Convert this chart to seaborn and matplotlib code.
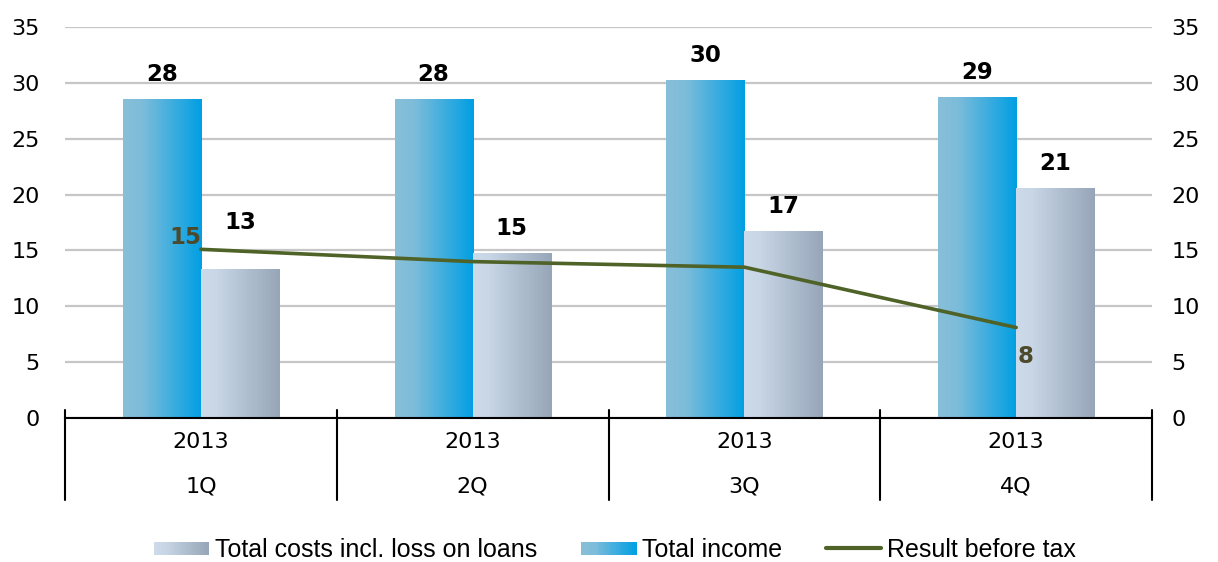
import matplotlib.pyplot as plt
import matplotlib.colors as mcolors
from matplotlib.patches import Rectangle
from matplotlib.lines import Line2D
from matplotlib.legend_handler import HandlerBase
import seaborn as sns
import numpy as np
import pandas as pd

# Chart data
quarters = ["1Q", "2Q", "3Q", "4Q"]
years = ["2013", "2013", "2013", "2013"]
total_income = [28.5, 28.5, 30.2, 28.7]
total_costs = [13.3, 14.7, 16.7, 20.5]
result_before_tax = [15.1, 14.0, 13.5, 8.1]
income_labels = ["28", "28", "30", "29"]
costs_labels = ["13", "15", "17", "21"]
result_labels = ["15", "", "", "8"]

income_cmap = mcolors.LinearSegmentedColormap.from_list(
    "income", [(0, "#88BFD8"), (0.25, "#7DBCDA"), (1, "#009FE3")])
costs_cmap = mcolors.LinearSegmentedColormap.from_list(
    "costs", [(0, "#CDDAEA"), (0.2, "#C8D6E6"), (1, "#96A6B8")])
line_color = "#4F6228"

sns.set_style("white")
plt.rcParams['font.family'] = ['DejaVu Sans']
plt.rcParams['text.color'] = "black"
plt.rcParams['ytick.color'] = "black"
plt.rcParams['xtick.color'] = "black"

df = pd.DataFrame({
    "quarter": quarters * 2,
    "series": ["Total income"] * 4 + ["Total costs"] * 4,
    "value": total_income + total_costs,
})

fig = plt.figure(figsize=(12.18, 5.62), dpi=100)
ax = fig.add_axes([0.0534, 0.2562, 0.8924, 0.6958])

sns.barplot(data=df, x="quarter", y="value", hue="series",
            hue_order=["Total income", "Total costs"], width=0.575,
            palette=["#009FE3", "#96A6B8"], legend=False, ax=ax, zorder=2)

# gradient fill for the bars
grad = np.linspace(0, 1, 256).reshape(1, -1)
for cont, cmap in zip(ax.containers, [income_cmap, costs_cmap]):
    for bar in cont:
        x0, y0 = bar.get_xy()
        w, h = bar.get_width(), bar.get_height()
        ax.imshow(grad, extent=[x0, x0 + w, y0, y0 + h], aspect="auto",
                  cmap=cmap, zorder=2, interpolation="bilinear")
        bar.set_visible(False)

sns.lineplot(x=np.arange(4), y=result_before_tax, ax=ax, color=line_color,
             linewidth=2.6, zorder=4)

ax.set_xlim(-0.5, 3.5)
ax.set_ylim(0, 35)
ax.set_yticks(range(0, 36, 5))
ax.grid(axis="y", color="#C6C6C6", linewidth=1.6, zorder=0)
ax.set_axisbelow(True)
for s in ["left", "right", "top"]:
    ax.spines[s].set_visible(False)
ax.spines["bottom"].set_color("black")
ax.spines["bottom"].set_linewidth(1.5)
ax.set_xlabel("")
ax.set_ylabel("")
ax.set_xticks([])
ax.tick_params(axis="y", length=0, labelsize=16, pad=18, labelcolor="black")

ax2 = ax.twinx()
ax2.set_ylim(0, 35)
ax2.set_yticks(range(0, 36, 5))
for s in ax2.spines.values():
    s.set_visible(False)
ax2.tick_params(axis="y", length=0, labelsize=16, pad=14, labelcolor="black")

# two level category axis
trans = ax.get_xaxis_transform()
for xs in np.arange(-0.5, 4, 1):
    ax.plot([xs, xs], [0.02, -0.21], color="black", lw=1.5, transform=trans,
            clip_on=False)
for i in range(4):
    ax.text(i, -0.061, years[i], transform=trans, ha="center", va="center",
            fontsize=16, color="black")
    ax.text(i, -0.176, quarters[i], transform=trans, ha="center", va="center",
            fontsize=16, color="black")

# data labels
inc_bars = ax.containers[0]
cost_bars = ax.containers[1]
for i in range(4):
    b = inc_bars[i]
    ax.annotate(income_labels[i], (b.get_x() + b.get_width() / 2, b.get_height()),
                xytext=(0, 25), textcoords="offset pixels", ha="center",
                va="center", fontsize=16.5, fontweight="bold", color="black",
                zorder=5)
    b = cost_bars[i]
    off = 47 if i == 0 else 25
    ax.annotate(costs_labels[i], (b.get_x() + b.get_width() / 2, b.get_height()),
                xytext=(0, off), textcoords="offset pixels", ha="center",
                va="center", fontsize=16.5, fontweight="bold", color="black",
                zorder=5)

line_offsets = [(-16, 12), (0, 0), (0, 0), (9, -29)]
for i in range(4):
    if result_labels[i]:
        ax.annotate(result_labels[i], (i, result_before_tax[i]),
                    xytext=line_offsets[i], textcoords="offset pixels",
                    ha="center", va="center", fontsize=16.5,
                    fontweight="bold", color="#4D4A2C", zorder=5)


class GradientHandler(HandlerBase):
    def __init__(self, cmap):
        super().__init__()
        self.cmap = cmap

    def create_artists(self, legend, orig_handle, xdescent, ydescent,
                       width, height, fontsize, trans):
        n = 30
        h = height * 0.75
        y0 = -ydescent + (height - h) / 2
        arts = []
        for k in range(n):
            r = Rectangle((-xdescent + width * k / n, y0), width / n + 0.3, h,
                          facecolor=self.cmap((k + 0.5) / n), edgecolor="none",
                          transform=trans)
            arts.append(r)
        return arts


h_costs = Rectangle((0, 0), 1, 1)
h_income = Rectangle((0, 0), 1, 1, label="inc")
h_line = Line2D([], [], color=line_color, lw=3)
fig.legend([h_costs, h_income, h_line],
           ["Total costs incl. loss on loans", "Total income", "Result before tax"],
           handler_map={h_costs: GradientHandler(costs_cmap),
                        h_income: GradientHandler(income_cmap)},
           loc="center", bbox_to_anchor=(0.505, 0.021), ncol=3, frameon=False,
           prop={"family": "Liberation Sans", "size": 18},
           handlelength=2.2, handletextpad=0.25, columnspacing=1.75)

plt.savefig("out.png", dpi=100)
